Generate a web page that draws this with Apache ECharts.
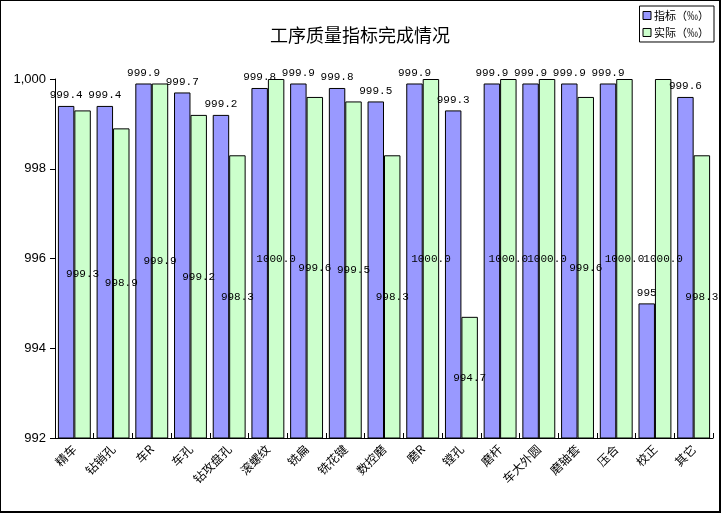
<!DOCTYPE html>
<html>
<head>
<meta charset="utf-8">
<script src="https://cdn.jsdelivr.net/npm/echarts@6/dist/echarts.min.js"></script>
<style>
  html, body { margin: 0; padding: 0; background: #fff; }
  #chart {
    width: 721px; height: 513px; box-sizing: border-box;
    border-left: 1px solid #000; border-top: 1px solid #000;
    border-right: 2px solid #000; border-bottom: 2px solid #000;
  }
</style>
</head>
<body>
<div id="chart"></div>
<script>
// 工序名称
let gongxu = ['精车', '钻销孔', '车R', '车孔', '钻攻盘孔', '滚螺纹', '铣扁', '铣花键', '数控磨',
    '磨R', '镗孔', '磨杆', '车大外圆', '磨轴套', '压合', '校正', '其它']
// 指标（‰）
let zhibiao = [999.4, 999.4, 999.9, 999.7, 999.2, 999.8, 999.9, 999.8, 999.5,
    999.9, 999.3, 999.9, 999.9, 999.9, 999.9, 995, 999.6]
// 实际（‰）
let shiji = [999.3, 998.9, 999.9, 999.2, 998.3, 1000.0, 999.6, 999.5, 998.3,
    1000.0, 994.7, 1000.0, 1000.0, 999.6, 1000.0, 1000.0, 998.3]
// y轴刻度
let yMin = 992
let yMax = 1000
let yPaso = 2

let fuenteNum = 'Liberation Mono'
let fuenteCJK = '"Noto Sans CJK SC", sans-serif'

let myChart = echarts.init(document.getElementById('chart'), null, { renderer: 'canvas' })

let option = {
    backgroundColor: '#fff',
    animation: false,
    title: {
        text: '工序质量指标完成情况',
        left: 'center',
        top: 20,
        textStyle: { fontFamily: fuenteCJK, fontSize: 18, fontWeight: 'normal', color: '#000' }
    },
    legend: {
        orient: 'vertical',
        right: 5,
        top: 5,
        padding: [4, 5, 4, 3],
        itemWidth: 8,
        itemHeight: 8,
        itemGap: 6,
        borderColor: '#000',
        borderWidth: 1,
        borderRadius: 0,
        textStyle: { fontFamily: fuenteCJK, fontSize: 11, color: '#000', padding: [0, 0, 0, -2] },
        data: [
            { name: '指标（‰）', icon: 'rect', itemStyle: { borderColor: '#000', borderWidth: 1 } },
            { name: '实际（‰）', icon: 'rect', itemStyle: { borderColor: '#000', borderWidth: 1 } }
        ]
    },
    grid: {
        left: 54,
        right: 6,
        top: 78,
        bottom: 73,
        containLabel: false
    },
    xAxis: {
        type: 'category',
        data: gongxu,
        axisLine: { show: true, lineStyle: { color: '#000', width: 1 } },
        axisTick: { show: true, inside: true, length: 5, lineStyle: { color: '#000' } },
        axisLabel: {
            rotate: 45,
            interval: 0,
            margin: 9,
            fontFamily: fuenteCJK,
            fontSize: 12,
            color: '#000'
        },
        splitLine: { show: false }
    },
    yAxis: {
        type: 'value',
        min: yMin,
        max: yMax,
        interval: yPaso,
        axisLine: { show: true, lineStyle: { color: '#000', width: 1 } },
        axisTick: { show: true, length: 5, lineStyle: { color: '#000' } },
        axisLabel: { fontFamily: 'Liberation Sans', fontSize: 13, color: '#000', margin: 9 },
        splitLine: { show: false }
    },
    series: [
        {
            name: '指标（‰）',
            type: 'bar',
            data: zhibiao,
            barGap: '0%',
            barCategoryGap: '15%',
            itemStyle: { color: '#9999FF', borderColor: '#000', borderWidth: 1 },
            label: {
                show: true,
                position: 'top',
                distance: 5,
                fontFamily: fuenteNum,
                fontSize: 11,
                color: '#000',
                formatter: (p) => String(p.value)
            }
        },
        {
            name: '实际（‰）',
            type: 'bar',
            data: shiji,
            itemStyle: { color: '#CCFFCC', borderColor: '#000', borderWidth: 1 },
            label: {
                show: true,
                position: 'inside',
                fontFamily: fuenteNum,
                fontSize: 11,
                color: '#000',
                formatter: (p) => p.value.toFixed(1)
            }
        }
    ]
}

myChart.setOption(option)
window.addEventListener('resize', myChart.resize)
</script>
</body>
</html>
